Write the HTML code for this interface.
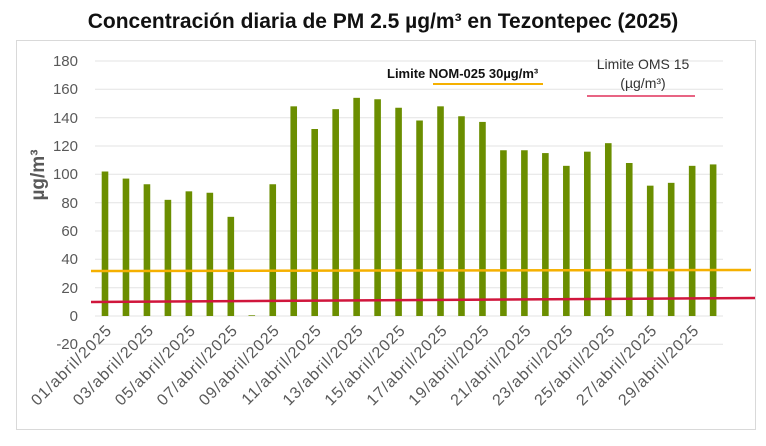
<!DOCTYPE html>
<html><head><meta charset="utf-8"><style>
body{margin:0;background:#fff;}
</style></head><body>
<svg width="766" height="441" xmlns="http://www.w3.org/2000/svg" font-family="Liberation Sans, sans-serif">
<rect width="766" height="441" fill="#fff"/>
<text x="383" y="28" text-anchor="middle" font-size="21" font-weight="bold" fill="#111">Concentración diaria de PM 2.5 µg/m³ en Tezontepec (2025)</text>
<rect x="16.5" y="40.5" width="739" height="389" fill="none" stroke="#d9d9d9"/>
<g stroke="#e3e3e3" stroke-width="1">
<line x1="95" x2="723" y1="61" y2="61"/><line x1="95" x2="723" y1="89.3" y2="89.3"/><line x1="95" x2="723" y1="117.7" y2="117.7"/><line x1="95" x2="723" y1="146" y2="146"/><line x1="95" x2="723" y1="174.3" y2="174.3"/><line x1="95" x2="723" y1="202.7" y2="202.7"/><line x1="95" x2="723" y1="231" y2="231"/><line x1="95" x2="723" y1="259.3" y2="259.3"/><line x1="95" x2="723" y1="287.7" y2="287.7"/><line x1="95" x2="723" y1="316" y2="316"/><line x1="95" x2="723" y1="344.3" y2="344.3"/>
</g>
<g font-size="15" fill="#595959" text-anchor="end">
<text x="78" y="66">180</text><text x="78" y="94">160</text><text x="78" y="123">140</text><text x="78" y="151">120</text><text x="78" y="179">100</text><text x="78" y="208">80</text><text x="78" y="236">60</text><text x="78" y="264">40</text><text x="78" y="293">20</text><text x="78" y="321">0</text><text x="78" y="349">-20</text>
</g>
<text transform="translate(44,175) rotate(-90)" text-anchor="middle" font-size="19" font-weight="bold" fill="#595959">µg/m³</text>
<g id="bars" fill="#6b8e00"></g>
<line x1="91" y1="271" x2="751" y2="270" stroke="#f5b000" stroke-width="2.5"/>
<line x1="91" y1="302" x2="755" y2="298" stroke="#d0163c" stroke-width="2.5"/>
<text x="387" y="78" font-size="13" font-weight="bold" fill="#111">Limite NOM-025 30µg/m³</text>
<line x1="433" y1="84" x2="543" y2="84" stroke="#f5b000" stroke-width="2"/>
<text x="643" y="69" text-anchor="middle" font-size="14" fill="#333">Limite OMS 15</text>
<text x="643" y="88" text-anchor="middle" font-size="14" fill="#333">(µg/m³)</text>
<line x1="587" y1="96" x2="695" y2="96" stroke="#e0305a" stroke-width="1.5"/>
<g id="labels" font-size="16" letter-spacing="1.1" fill="#595959" text-anchor="end"></g>
<script>
var v=[102,97,93,82,88,87,70,0.5,93,148,132,146,154,153,147,138,148,141,137,117,117,115,106,116,122,108,92,94,106,107];
var b=document.getElementById('bars'),l=document.getElementById('labels'),ns='http://www.w3.org/2000/svg';
for(var i=0;i<30;i++){var x=105+i*20.97,h=v[i]*255/180;var r=document.createElementNS(ns,'rect');r.setAttribute('x',x-3.3);r.setAttribute('y',316-h);r.setAttribute('width',6.6);r.setAttribute('height',h);b.appendChild(r);
if(i%2==0){var t=document.createElementNS(ns,'text');t.setAttribute('transform','translate('+(x+8)+',331) rotate(-45)');t.textContent=(i+1<10?'0':'')+(i+1)+'/abril/2025';l.appendChild(t);}}
</script>
</svg>
</body></html>
